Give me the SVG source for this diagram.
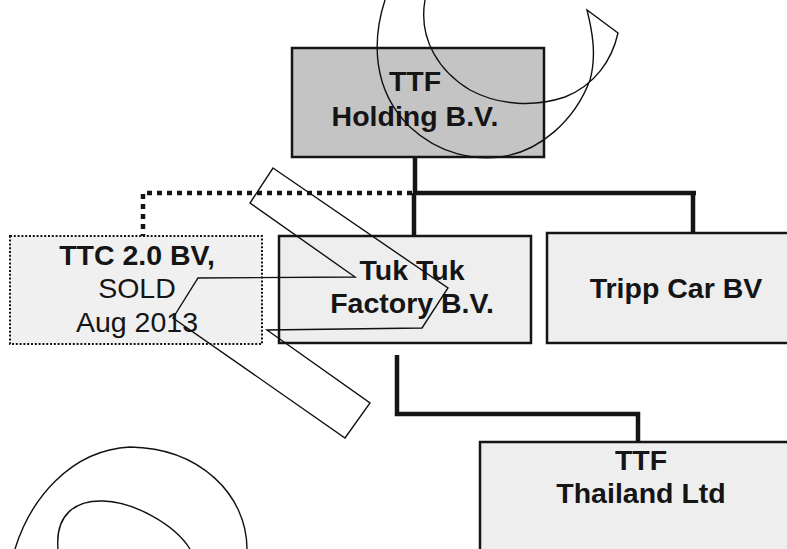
<svg xmlns="http://www.w3.org/2000/svg" width="787" height="549" viewBox="0 0 787 549">
<style>
.box{fill:#eeeeee;stroke:#151515;stroke-width:2.5}
.dark{fill:#c4c4c4;stroke:#151515;stroke-width:2.5}
.sold{fill:#f0f0f0;stroke:#151515;stroke-width:2;stroke-dasharray:2 1.8}
.t{font-family:"Liberation Sans",Arial,sans-serif;font-size:28.5px;fill:#151515;text-anchor:middle}
.b{font-weight:bold}
.conn{fill:none;stroke:#151515;stroke-width:4.5}
.dot{fill:none;stroke:#151515;stroke-width:4.5;stroke-dasharray:5 5}
.ov{fill:none;stroke:#111;stroke-width:1.4;stroke-linejoin:miter}
</style>
<rect width="787" height="549" fill="#ffffff"/>
<g id="connectors">
<path class="dot" d="M412,193 H143 V236"/>
<path class="conn" d="M415,158 V193 M414,193 H696 M414,193 V236 M693,193 V233"/>
<path class="conn" d="M397,355 V414 H638 V442"/>
</g>
<g id="holding">
<rect class="dark" x="292" y="48" width="252" height="109"/>
<text class="t b" x="415" y="91">TTF</text>
<text class="t b" x="415" y="126">Holding B.V.</text>
</g>
<g id="ttc">
<rect class="sold" x="10" y="236" width="252" height="108"/>
<text class="t b" x="137" y="265">TTC 2.0 BV,</text>
<text class="t" x="137" y="298">SOLD</text>
<text class="t" x="137" y="332">Aug 2013</text>
</g>
<g id="tuktuk">
<rect class="box" x="279" y="236" width="252" height="107"/>
<text class="t b" x="412" y="280">Tuk Tuk</text>
<text class="t b" x="412" y="313">Factory B.V.</text>
</g>
<g id="tripp">
<rect class="box" x="547" y="233" width="260" height="110"/>
<text class="t b" x="676" y="298">Tripp Car BV</text>
</g>
<g id="thailand">
<rect class="box" x="480" y="442" width="330" height="130"/>
<text class="t b" x="641" y="470">TTF</text>
<text class="t b" x="641" y="503">Thailand Ltd</text>
</g>
<g id="overlay">
<path class="ov" d="M385,0 C372,40 372,90 410,127 C440,155 475,160 500,157 C540,152 575,120 590,80 C597,55 592,30 587,10 L618,33 C612,60 595,85 565,97 C535,107 500,106 470,90 C440,72 418,40 425,0"/>
<polygon class="ov" points="273,168 448,288 422,328 267,330 370,403 345,438 173,318 198,278 355,277 250,203"/>
<path class="ov" d="M15,549 C30,500 70,450 130,447 C200,448 247,495 247,549"/>
<path class="ov" d="M58,549 C55,515 75,500 103,501 C135,502 175,525 190,549"/>
</g>
</svg>
